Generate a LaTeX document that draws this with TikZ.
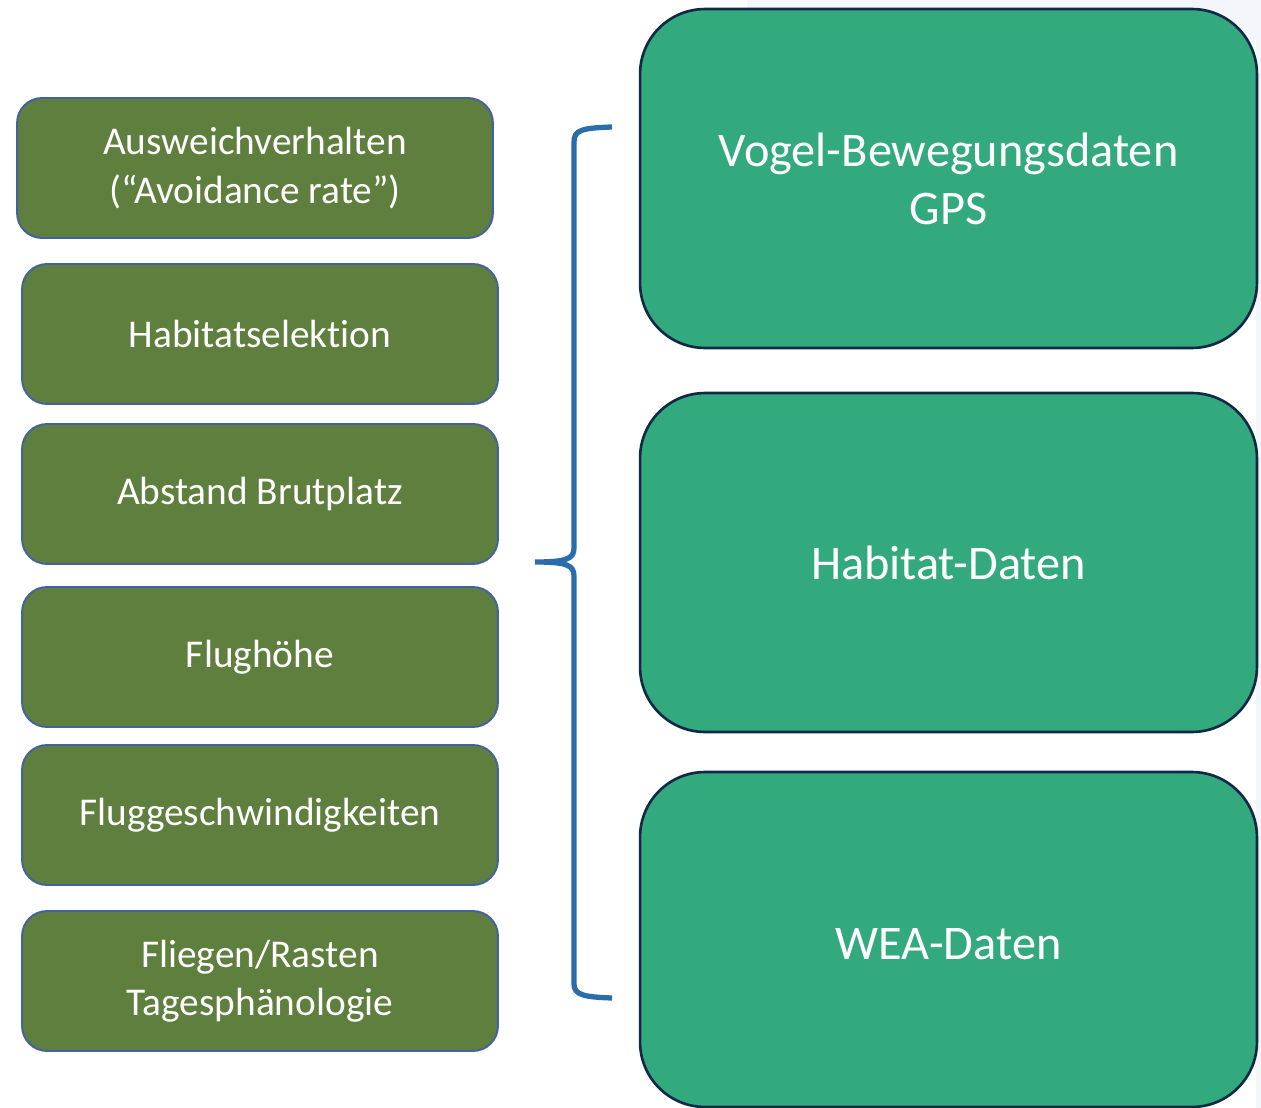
\documentclass[tikz,border=0pt]{standalone}
\usepackage{fontspec}
\setmainfont{Carlito}[Ligatures=NoCommon]
\definecolor{leftfill}{HTML}{5E7F3E}
\definecolor{leftline}{HTML}{4562A0}
\definecolor{rightfill}{HTML}{33AA7E}
\definecolor{rightline}{HTML}{102A45}
\definecolor{bracecol}{HTML}{2B6CAA}
\definecolor{paper}{HTML}{F2F5F9}
\tikzset{
  factor/.style={draw=leftline, line width=1.1pt, fill=leftfill, rounded corners=0.5cm,
    minimum width=9.52cm, minimum height=2.8cm, inner sep=0pt, align=center,
    text=white, font=\fontsize{22.4}{27.5}\selectfont},
  source/.style={draw=rightline, line width=1.5pt, fill=rightfill, rounded corners=1.3cm,
    minimum width=12.34cm, inner sep=0pt, align=center,
    text=white, font=\fontsize{27.5}{33}\selectfont},
  brace/.style={draw=bracecol, line width=3pt}
}
\begin{document}
\begin{tikzpicture}[x=0.02cm,y=-0.02cm]
\useasboundingbox (0,0) rectangle (1261,1108);
% faint page tint behind the right column
\fill[paper] (747,0) rectangle (1261,40);
\fill[paper] (1256,0) rectangle (1261,1108);

% left column: model components
\node[factor] (avoid) at (255,168) {Ausweichverhalten\\(“Avoidance rate”)};
\node[factor] (habsel) at (260,334) {Habitatselektion};
\node[factor] (brut) at (260,494) {Abstand Brutplatz};
\node[factor] (hoehe) at (260,657) {Flughöhe};
\node[factor] (speed) at (260,815) {Fluggeschwindigkeiten};
\node[factor] (rast) at (260,981) {Fliegen/Rasten\\Tagesphänologie};

% right column: data sources
\node[source, minimum height=6.78cm] (gps) at (948.5,178.5) {Vogel-Bewegungsdaten\\GPS};
\node[source, minimum height=6.78cm] (hab) at (948.5,562.5) {Habitat-Daten};
\node[source, minimum height=6.7cm] (wea) at (948.5,939.5) {};
\node[text=white, font=\fontsize{27.5}{33}\selectfont] (wealabel) at (948.5,944) {WEA-Daten};

% curly brace joining both columns
\coordinate (btop) at (612,127);
\coordinate (btip) at (535,562);
\coordinate (bbot) at (612,998);
\draw[brace] (btop) .. controls (582,128) and (574,130) .. (574,142)
  -- (574,548) .. controls (574,559) and (566,562) .. (btip)
  .. controls (566,562) and (574,565) .. (574,576)
  -- (574,984) .. controls (574,995) and (584,997) .. (bbot);
\end{tikzpicture}
\end{document}
